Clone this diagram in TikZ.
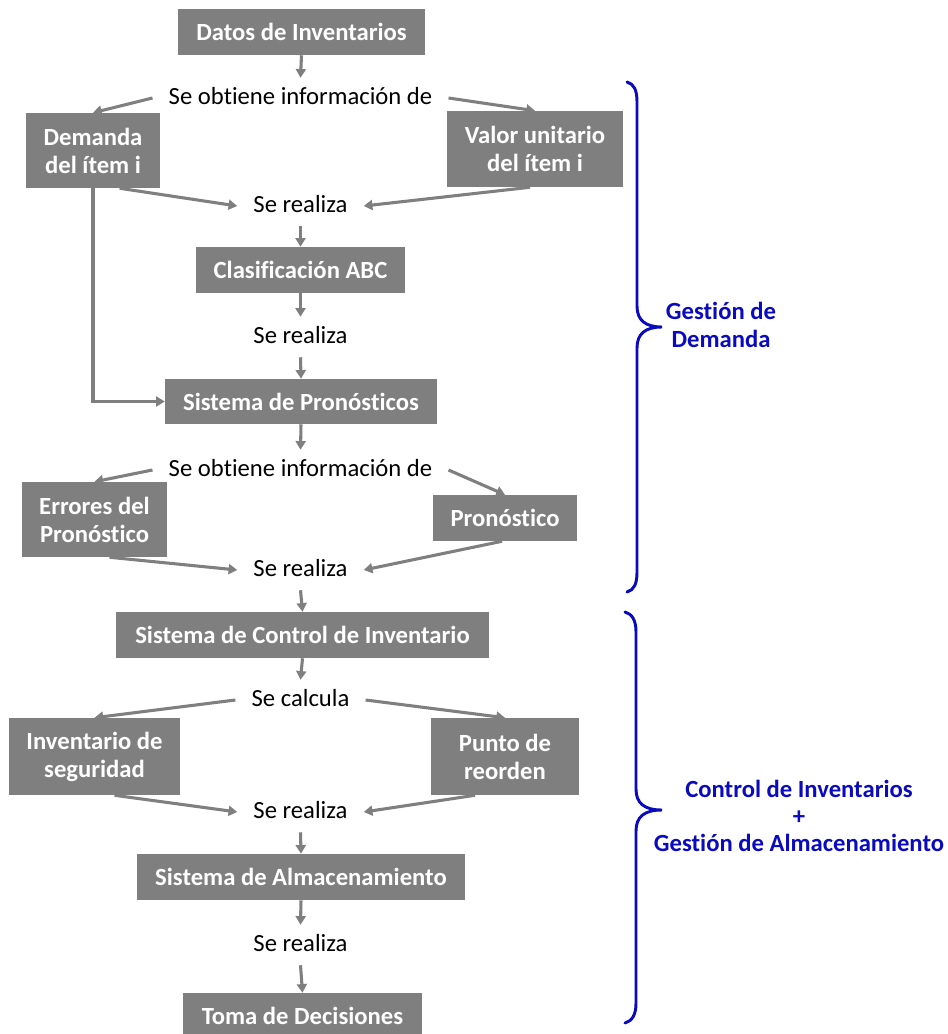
\documentclass[tikz,border=0pt]{standalone}
\usepackage{fontspec}
\setmainfont{Carlito}[RawFeature={-liga;-clig;-dlig}]
\usetikzlibrary{arrows.meta}
\definecolor{boxgray}{RGB}{127,127,127}
\definecolor{linegray}{RGB}{127,127,127}
\definecolor{braceblue}{RGB}{10,10,190}

\begin{document}
\begin{tikzpicture}[x=0.75pt,y=-0.75pt,
  box/.style={fill=boxgray, text=white, font=\fontsize{18.5}{21}\selectfont\bfseries, align=center, inner sep=0pt},
  bw/.style={minimum width=#1*0.75pt},
  bh/.style={minimum height=#1*0.75pt},
  lbl/.style={font=\fontsize{18.5}{21}\selectfont, inner xsep=12pt, inner ysep=0pt, text height=13pt, text depth=3pt, minimum height=30pt},
  arr/.style={draw=linegray, line width=2.3pt, -{Triangle[length=6.5pt,width=7.5pt]}},
  bracestyle/.style={draw=braceblue, line width=2.2pt, line cap=round},
  note/.style={text=braceblue, font=\fontsize{18.5}{20.5}\selectfont\bfseries, align=center}]

% page
\fill[white] (0,0) rectangle (947,1034);
\useasboundingbox (0,0) rectangle (947,1034);

% process boxes
\node[box, bw=247, bh=46] (dat)  at (301.5,32)   {Datos de Inventarios};
\node[box, bw=134, bh=75] (dem)  at (93,150.5)   {Demanda\\del ítem i};
\node[box, bw=176, bh=76] (val)  at (535,149)    {Valor unitario\\del ítem i};
\node[box, bw=209, bh=46] (abc)  at (300.5,270)  {Clasificación ABC};
\node[box, bw=272, bh=45] (pro)  at (301,401.5)  {Sistema de Pronósticos};
\node[box, bw=145, bh=75] (err)  at (94.5,519.5) {Errores del\\Pronóstico};
\node[box, bw=144, bh=46] (pron) at (505,518)    {Pronóstico};
\node[box, bw=373, bh=46] (ctl)  at (302.5,635)  {Sistema de Control de Inventario};
\node[box, bw=171, bh=77] (inv)  at (94.5,756.5) {Inventario de\\seguridad};
\node[box, bw=148, bh=77] (pun)  at (505,756.5)  {Punto de\\reorden};
\node[box, bw=328, bh=46] (alm)  at (301,877)    {Sistema de Almacenamiento};
\node[box, bw=239, bh=46] (tom)  at (302.5,1016) {Toma de Decisiones};

% connecting phrases
\node[lbl] (ob1) at (300.5,98)  {Se obtiene información de};
\node[lbl] (sr1) at (300.5,206) {Se realiza};
\node[lbl] (sr2) at (300.5,337) {Se realiza};
\node[lbl] (ob2) at (300.5,470) {Se obtiene información de};
\node[lbl] (sr3) at (300.5,570) {Se realiza};
\node[lbl] (sc)  at (300.5,700) {Se calcula};
\node[lbl] (sr4) at (300.5,812) {Se realiza};
\node[lbl] (sr5) at (300.5,945) {Se realiza};

% flow
\draw[arr] (dat.south) -- (ob1.north);
\draw[arr] (ob1.west) -- (dem.north);
\draw[arr] (ob1.east) -- (val.north);
\draw[arr] ([xshift=20pt]dem.south) -- (sr1.west);
\draw[arr] ([xshift=-3.75pt]val.south) -- (sr1.east);
\draw[arr] (sr1.south) -- (abc.north);
\draw[arr] (abc.south) -- (sr2.north);
\draw[arr] (sr2.south) -- (pro.north);
\draw[arr] (dem.south) |- (pro.west);
\draw[arr] (pro.south) -- (ob2.north);
\draw[arr] (ob2.west) -- (err.north);
\draw[arr] (ob2.east) -- (pron.north);
\draw[arr] ([xshift=11.25pt]err.south) -- (sr3.west);
\draw[arr] ([xshift=-2.25pt]pron.south) -- (sr3.east);
\draw[arr] (sr3.south) -- (ctl.north);
\draw[arr] (ctl.south) -- (sc.north);
\draw[arr] (sc.west) -- (inv.north);
\draw[arr] (sc.east) -- (pun.north);
\draw[arr] ([xshift=15pt]inv.south) -- (sr4.west);
\draw[arr] ([xshift=-22.5pt]pun.south) -- (sr4.east);
\draw[arr] (sr4.south) -- (alm.north);
\draw[arr] (alm.south) -- (sr5.north);
\draw[arr] (sr5.south) -- (tom.north);

% braces
\draw[bracestyle] (627,82) .. controls (634,84) and (637,90) .. (637,102)
  -- (637,306) .. controls (637,320) and (645,327) .. (662,327)
  .. controls (645,327) and (637,334) .. (637,348)
  -- (637,572) .. controls (637,584) and (634,590) .. (627,592);
\draw[bracestyle] (625,612) .. controls (632,614) and (636,620) .. (636,632)
  -- (636,789) .. controls (636,803) and (644,810) .. (662,810)
  .. controls (644,810) and (636,817) .. (636,831)
  -- (636,1003) .. controls (636,1015) and (632,1021) .. (625,1023);

% section labels
\node[note] (gd) at (721,325) {Gestión de\\Demanda};
\node[note] (ci) at (799,816) {Control de Inventarios\\+\\Gestión de Almacenamiento};
\end{tikzpicture}
\end{document}
